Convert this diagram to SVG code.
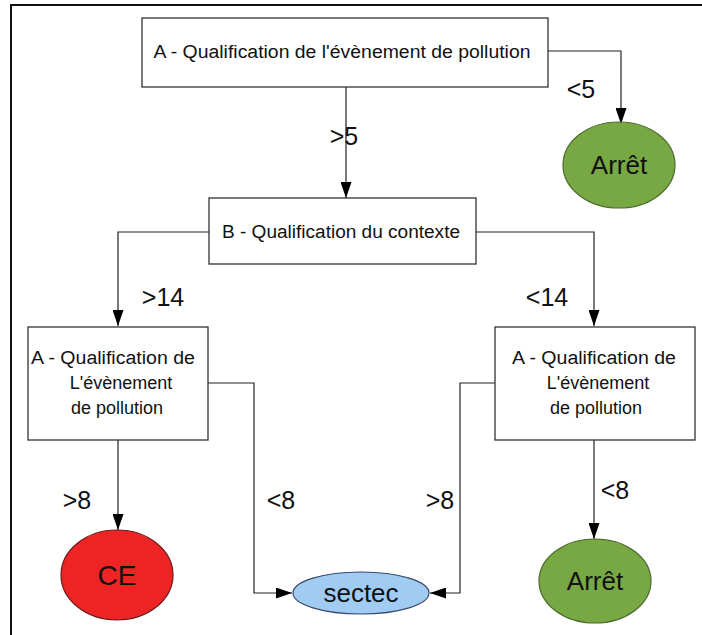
<svg xmlns="http://www.w3.org/2000/svg" width="702" height="635" viewBox="0 0 702 635">
<defs>
<marker id="arr" viewBox="0 0 16 11" refX="16" refY="5.5" markerWidth="16" markerHeight="11" markerUnits="userSpaceOnUse" orient="auto">
<path d="M0,0 L16,5.5 L0,11 Z" fill="#000"/>
</marker>
</defs>
<style>
.box{fill:#fff;stroke:#333;stroke-width:1.3}
.t{font-family:"Liberation Sans",Arial,sans-serif;fill:#111;text-anchor:middle}
.bt{font-size:18px}
.lbl{font-size:25px}
.nl{font-size:26px}
.c{fill:none;stroke:#222;stroke-width:1.2;marker-end:url(#arr)}
</style>
<rect width="702" height="635" fill="#fff"/>
<path d="M11,635 V5 H702" fill="none" stroke="#111" stroke-width="2"/>
<g id="connectors">
<path class="c" d="M548,51 H621 V124"/>
<path class="c" d="M346,87 V198"/>
<path class="c" d="M209,232 H118 V326"/>
<path class="c" d="M476,232 H594 V326"/>
<path class="c" d="M208,383 H254 V593 H292"/>
<path class="c" d="M495,383 H460 V593 H430"/>
<path class="c" d="M118,440 V530"/>
<path class="c" d="M594,440 V539"/>
<text class="t lbl" x="581" y="98">&lt;5</text>
<text class="t lbl" x="344" y="145">&gt;5</text>
<text class="t lbl" x="163" y="306">&gt;14</text>
<text class="t lbl" x="547" y="306">&lt;14</text>
<text class="t lbl" x="77" y="509">&gt;8</text>
<text class="t lbl" x="281" y="509">&lt;8</text>
<text class="t lbl" x="440" y="509">&gt;8</text>
<text class="t lbl" x="615" y="499">&lt;8</text>
</g>
<g id="nodeA">
<rect class="box" x="142" y="18" width="406" height="69"/>
<text class="t bt" x="342" y="58" textLength="377" lengthAdjust="spacingAndGlyphs">A  - Qualification de l'évènement de pollution</text>
</g>
<g id="arret1">
<ellipse cx="619" cy="165" rx="56" ry="43" fill="#77a843" stroke="#4a6a2a" stroke-width="1.2"/>
<text class="t nl" x="619" y="174">Arrêt</text>
</g>
<g id="nodeB">
<rect class="box" x="209" y="198" width="267" height="66"/>
<text class="t bt" x="341" y="238" textLength="238" lengthAdjust="spacingAndGlyphs">B - Qualification du contexte</text>
</g>
<g id="nodeA2">
<rect class="box" x="28" y="327" width="180" height="113"/>
<text class="t bt" x="113" y="364" textLength="164" lengthAdjust="spacingAndGlyphs">A - Qualification de</text>
<text class="t bt" x="121" y="389">L'évènement</text>
<text class="t bt" x="117" y="414">de pollution</text>
</g>
<g id="nodeA3">
<rect class="box" x="495" y="327" width="200" height="113"/>
<text class="t bt" x="594" y="364" textLength="164" lengthAdjust="spacingAndGlyphs">A - Qualification de</text>
<text class="t bt" x="598" y="389">L'évènement</text>
<text class="t bt" x="596" y="414">de pollution</text>
</g>
<g id="ce">
<ellipse cx="117" cy="575" rx="56" ry="45" fill="#ee2424" stroke="#6a1a1a" stroke-width="1.2"/>
<text class="t" style="font-size:28px" x="117" y="585">CE</text>
</g>
<g id="sectec">
<ellipse cx="361" cy="593" rx="68" ry="21" fill="#a0cbf3" stroke="#3a4a6a" stroke-width="1.2"/>
<text class="t nl" x="361" y="602">sectec</text>
</g>
<g id="arret2">
<ellipse cx="595" cy="581" rx="56" ry="42" fill="#77a843" stroke="#4a6a2a" stroke-width="1.2"/>
<text class="t nl" x="595" y="590">Arrêt</text>
</g>
</svg>
